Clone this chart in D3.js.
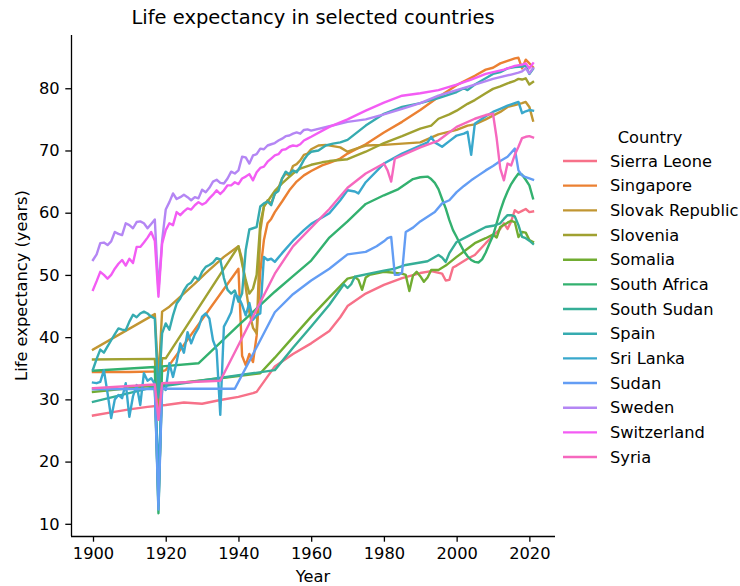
<!DOCTYPE html>
<html>
<head>
<meta charset="utf-8">
<script src="https://cdn.jsdelivr.net/npm/d3@7"></script>
<style>
  body { margin: 0; background: #fff; }
  svg { display: block; }
  text { font-family: "DejaVu Sans", sans-serif; fill: #000; }
</style>
</head>
<body>
<svg id="chart" width="740" height="586"></svg>
<script>
// ---------------- data ----------------
const countries = ["Sierra Leone", "Singapore", "Slovak Republic", "Slovenia", "Somalia",
  "South Africa", "South Sudan", "Spain", "Sri Lanka", "Sudan", "Sweden", "Switzerland", "Syria"];

const sierraLeone = [[1900,27.4],[1905,27.9],[1910,28.4],[1915,28.8],[1920,29.1],[1925,29.5],[1930,29.3],
  [1935,29.9],[1940,30.4],[1944,31.0],[1945,31.2],[1950,35.3],[1955,37.3],[1960,39.0],[1965,41.0],[1968,43.2],
  [1970,45.0],[1975,47.0],[1980,48.4],[1985,49.5],[1990,50.3],[1993,50.6],[1996,50.2],[1997,49.1],[1998,49.2],
  [1999,51.2],[2000,51.5],[2003,52.6],[2005,53.2],[2008,55.1],[2010,56.3],[2012,57.4],[2013,58.3],[2014,57.4],
  [2015,58.6],[2016,60.4],[2017,60.0],[2018,60.3],[2019,60.6],[2020,60.1],[2021,60.2]];

const singapore = [[1900,34.4],[1910,34.4],[1919,34.5],[1920,34.7],[1940,51.0],[1941,37.0],[1942,35.5],
  [1943,37.3],[1944,36.0],[1945,40.2],[1946,50.5],[1947,55.6],[1948,58.3],[1949,59.0],[1950,60.1],[1952,61.8],
  [1954,63.6],[1956,65.0],[1958,66.0],[1960,66.7],[1963,67.6],[1965,68.0],[1968,68.7],[1970,69.5],[1975,71.0],
  [1980,72.9],[1985,74.6],[1990,76.5],[1995,78.6],[2000,80.5],[2005,82.0],[2008,83.0],[2010,83.3],[2012,84.0],
  [2014,84.4],[2016,84.8],[2017,84.9],[2018,83.2],[2019,84.6],[2020,84.0],[2021,83.4]];

const slovakRepublic = [[1900,38.0],[1917,43.7],[1918,33.0],[1919,44.1],[1921,44.9],[1928,48.6],[1931,50.3],
  [1936,52.9],[1940,54.6],[1941,52.5],[1942,48.0],[1943,44.0],[1944,41.5],[1945,40.6],[1946,57.0],[1947,61.0],
  [1948,62.0],[1949,61.5],[1950,63.0],[1951,64.0],[1952,65.5],[1953,66.3],[1954,66.0],[1955,67.5],[1956,67.8],
  [1957,68.4],[1958,69.3],[1959,69.5],[1960,70.2],[1962,70.8],[1964,70.9],[1966,70.7],[1968,70.5],[1970,69.8],
  [1972,70.2],[1975,70.8],[1980,70.9],[1985,71.1],[1990,71.3],[1995,72.6],[2000,73.3],[2003,74.0],[2005,74.2],
  [2008,75.0],[2010,75.6],[2012,76.2],[2014,77.0],[2016,77.3],[2018,77.6],[2019,77.8],[2020,77.0],[2021,74.8]];

const slovenia = [[1900,36.4],[1917,36.5],[1918,27.5],[1919,36.6],[1920,36.6],[1940,54.6],[1941,51.8],
  [1942,49.2],[1943,47.0],[1944,47.8],[1945,50.0],[1946,58.3],[1947,61.0],[1948,61.8],[1950,63.5],[1952,64.7],
  [1955,66.3],[1957,67.1],[1960,67.7],[1963,68.1],[1965,68.3],[1970,68.6],[1975,69.8],[1980,71.2],[1985,72.3],
  [1990,73.5],[1993,74.0],[1995,75.1],[1998,75.8],[2000,76.4],[2003,77.5],[2005,78.1],[2008,79.2],[2010,79.9],
  [2012,80.3],[2014,80.8],[2016,81.2],[2017,81.5],[2018,81.4],[2019,81.6],[2020,80.6],[2021,81.0]];

const somalia = [[1900,31.2],[1917,32.2],[1918,14.0],[1919,32.3],[1935,33.4],[1946,34.2],[1950,36.7],
  [1955,40.0],[1960,43.3],[1965,46.4],[1970,49.4],[1972,49.7],[1973,49.2],[1974,47.6],[1975,49.6],[1976,50.0],
  [1980,50.5],[1985,50.2],[1986,50.0],[1987,47.4],[1988,49.9],[1989,50.5],[1990,49.8],[1991,48.9],[1992,49.6],
  [1993,50.8],[1995,50.8],[1997,51.5],[2000,52.9],[2003,54.2],[2005,55.1],[2008,55.9],[2010,56.5],[2011,56.0],
  [2012,57.7],[2014,58.4],[2015,58.7],[2016,58.5],[2017,56.1],[2018,56.9],[2019,56.8],[2020,55.6],[2021,55.3]];

const southAfrica = [[1900,34.6],[1917,35.2],[1918,11.7],[1919,35.3],[1929,35.8],[1940,41.9],[1950,47.3],
  [1955,49.8],[1960,52.3],[1965,56.0],[1970,58.6],[1975,61.4],[1980,62.8],[1984,63.8],[1988,65.4],[1990,65.7],
  [1992,65.8],[1993,65.4],[1994,64.8],[1995,63.8],[1996,62.2],[1997,60.7],[1998,58.8],[1999,57.2],[2000,56.1],
  [2001,54.9],[2002,53.8],[2003,53.0],[2004,52.4],[2005,52.1],[2006,52.0],[2007,52.5],[2008,53.6],[2009,55.0],
  [2010,56.3],[2011,58.3],[2012,60.3],[2013,62.0],[2014,63.4],[2015,64.6],[2016,65.5],[2017,66.3],[2018,66.1],
  [2019,65.3],[2020,64.4],[2021,62.3]];

const southSudan = [[1900,29.6],[1917,32.0],[1918,13.0],[1919,32.1],[1950,34.7],[1955,38.3],[1960,41.7],
  [1965,45.2],[1969,48.5],[1970,47.9],[1971,48.5],[1972,49.7],[1976,50.2],[1980,50.7],[1983,51.0],[1986,51.6],
  [1990,52.0],[1992,52.2],[1995,53.2],[1996,52.8],[1997,52.1],[1998,53.5],[2000,55.3],[2003,56.2],[2005,56.8],
  [2008,57.7],[2010,57.9],[2012,58.3],[2013,59.0],[2014,59.6],[2015,59.6],[2016,59.4],[2017,58.0],[2018,56.1],
  [2019,55.9],[2020,55.5],[2021,55.0]];

const spain = [[1900,34.8],[1901,36.5],[1902,38.0],[1903,37.5],[1904,38.5],[1905,39.5],[1906,40.5],[1907,41.4],
  [1908,41.2],[1909,41.1],[1910,42.5],[1911,43.6],[1912,43.2],[1913,43.8],[1914,44.1],[1915,43.8],[1916,43.3],
  [1917,43.0],[1918,30.3],[1919,40.6],[1920,42.2],[1921,41.2],[1922,43.5],[1923,45.4],[1924,46.2],[1925,47.5],
  [1926,48.4],[1927,48.8],[1928,49.7],[1929,49.2],[1930,50.5],[1931,51.3],[1932,51.6],[1933,52.0],[1934,52.7],
  [1935,52.5],[1936,49.5],[1937,47.6],[1938,47.0],[1939,47.5],[1940,45.7],[1941,47.0],[1942,54.0],[1943,57.3],
  [1944,57.5],[1945,57.7],[1946,61.0],[1947,61.5],[1948,61.8],[1949,61.2],[1950,63.1],[1951,63.5],[1952,65.5],
  [1953,66.6],[1954,66.2],[1955,66.8],[1956,66.5],[1957,67.4],[1958,68.5],[1959,69.3],[1960,69.8],[1962,70.0],
  [1964,70.8],[1966,71.1],[1968,71.3],[1970,71.7],[1975,74.0],[1980,75.9],[1985,77.0],[1990,77.6],[1995,78.4],
  [2000,79.4],[2002,80.0],[2003,79.7],[2005,80.6],[2008,81.6],[2010,82.3],[2012,82.6],[2014,83.2],[2016,83.4],
  [2018,83.5],[2019,83.6],[2020,82.3],[2021,83.1]];

const sriLanka = [[1900,32.7],[1901,32.6],[1902,32.8],[1903,34.7],[1904,31.0],[1905,27.0],[1906,30.0],
  [1907,30.7],[1908,30.2],[1909,32.6],[1910,27.2],[1911,30.5],[1912,32.3],[1913,29.1],[1914,34.2],[1915,33.0],
  [1916,33.4],[1917,32.5],[1918,18.0],[1919,32.0],[1920,31.5],[1921,35.8],[1922,33.6],[1923,36.0],[1924,39.0],
  [1925,37.5],[1926,40.8],[1927,39.0],[1928,40.5],[1929,41.5],[1930,43.3],[1931,43.8],[1932,43.0],[1933,39.5],
  [1934,37.9],[1935,27.5],[1936,41.7],[1937,42.8],[1938,44.0],[1939,46.8],[1940,46.5],[1941,45.2],[1942,43.5],
  [1943,45.5],[1944,42.8],[1945,43.5],[1946,43.8],[1947,52.9],[1948,52.4],[1949,52.6],[1950,52.1],[1952,53.5],
  [1955,55.5],[1958,57.2],[1960,58.2],[1965,59.9],[1968,62.0],[1970,63.6],[1972,63.4],[1973,63.1],[1975,64.9],
  [1980,67.9],[1985,69.5],[1990,70.8],[1992,71.3],[1993,72.2],[1994,71.3],[1996,70.6],[1998,71.5],[2000,72.4],
  [2002,72.7],[2003,73.0],[2004,69.3],[2005,74.3],[2008,75.5],[2010,76.2],[2012,76.7],[2014,77.2],[2016,77.6],
  [2017,77.8],[2018,76.0],[2019,76.3],[2020,76.5],[2021,76.4]];

const sudan = [[1900,31.6],[1917,31.7],[1918,12.3],[1919,31.7],[1939,31.7],[1946,39.5],[1950,44.0],
  [1955,46.9],[1960,49.1],[1965,51.0],[1970,53.3],[1975,53.7],[1978,54.6],[1980,55.4],[1981,55.9],[1982,56.1],
  [1983,50.0],[1984,50.0],[1985,50.4],[1986,56.9],[1988,57.6],[1990,58.6],[1994,60.1],[1996,61.5],[1998,62.0],
  [2000,63.3],[2002,64.3],[2004,65.2],[2006,66.0],[2008,66.8],[2010,67.5],[2012,68.3],[2014,69.0],[2016,70.3],
  [2017,66.8],[2018,66.0],[2019,65.7],[2020,65.5],[2021,65.3]];

const sweden = [[1900,52.4],[1901,53.3],[1902,55.1],[1903,55.2],[1904,54.8],[1905,55.4],[1906,56.9],[1907,56.6],
  [1908,56.4],[1909,58.3],[1910,58.0],[1911,57.5],[1912,58.5],[1913,58.6],[1914,58.3],[1915,57.5],[1916,58.2],
  [1917,58.9],[1918,47.5],[1919,55.5],[1920,60.5],[1921,61.7],[1922,63.1],[1923,62.2],[1924,62.5],[1925,62.9],
  [1926,62.5],[1927,62.0],[1928,62.5],[1929,62.3],[1930,63.7],[1931,63.3],[1932,64.0],[1933,65.0],[1934,65.3],
  [1935,64.8],[1936,64.7],[1937,65.5],[1938,66.6],[1939,66.3],[1940,66.8],[1941,69.0],[1942,68.9],[1943,67.9],
  [1944,69.2],[1945,69.4],[1946,70.3],[1947,70.2],[1948,70.8],[1949,71.0],[1950,71.2],[1951,71.6],[1952,71.9],
  [1953,72.3],[1954,72.4],[1955,72.7],[1956,72.9],[1957,72.7],[1958,73.3],[1959,73.4],[1960,73.2],[1965,73.9],
  [1970,74.6],[1975,75.0],[1980,75.8],[1985,76.7],[1990,77.6],[1995,78.8],[2000,79.7],[2005,80.6],[2010,81.5],
  [2015,82.2],[2017,82.5],[2018,82.7],[2019,83.2],[2020,82.4],[2021,83.2]];

const switzerland = [[1900,47.6],[1901,49.0],[1902,50.5],[1903,50.0],[1904,49.4],[1905,50.0],[1906,51.0],
  [1907,51.8],[1908,52.4],[1909,51.5],[1910,52.6],[1911,51.9],[1912,54.5],[1913,54.5],[1914,55.2],[1915,56.0],
  [1916,56.9],[1917,55.5],[1918,46.5],[1919,55.0],[1920,57.2],[1921,58.3],[1922,58.0],[1923,60.1],[1924,59.6],
  [1925,60.2],[1926,60.7],[1927,60.5],[1928,61.2],[1929,61.7],[1930,61.3],[1931,61.6],[1932,62.3],[1933,62.9],
  [1934,63.6],[1935,63.0],[1936,63.6],[1937,64.4],[1938,64.4],[1939,64.9],[1940,64.6],[1941,65.5],[1942,65.8],
  [1943,66.2],[1944,65.2],[1945,66.5],[1946,67.2],[1947,67.4],[1948,68.2],[1949,68.7],[1950,69.2],[1951,69.4],
  [1952,70.1],[1953,70.2],[1954,70.6],[1955,70.8],[1956,70.7],[1957,71.0],[1958,71.6],[1959,71.9],[1960,72.2],
  [1965,73.8],[1970,75.0],[1975,76.4],[1980,77.7],[1985,78.8],[1990,79.2],[1995,79.7],[2000,80.6],[2004,81.4],
  [2008,82.3],[2013,83.0],[2016,83.6],[2018,83.8],[2019,84.0],[2020,83.2],[2021,84.0]];

const syria = [[1900,31.8],[1917,32.4],[1918,26.7],[1919,32.6],[1935,33.0],[1950,50.2],[1955,54.6],[1960,57.6],
  [1965,60.6],[1970,64.0],[1975,66.3],[1980,67.9],[1981,66.8],[1982,65.0],[1983,68.7],[1985,69.2],[1990,70.5],
  [1995,71.6],[2000,73.8],[2005,75.1],[2008,75.7],[2010,75.9],[2011,72.0],[2012,67.1],[2013,65.2],[2014,67.9],
  [2015,67.6],[2016,69.3],[2017,70.6],[2018,72.0],[2019,72.2],[2020,72.3],[2021,72.1]];

const seriesValues = [sierraLeone, singapore, slovakRepublic, slovenia, somalia, southAfrica, southSudan,
  spain, sriLanka, sudan, sweden, switzerland, syria];

const xTickValues = [1900, 1920, 1940, 1960, 1980, 2000, 2020];
const yTickValues = [10, 20, 30, 40, 50, 60, 70, 80];
const chartTitle = "Life expectancy in selected countries";
const xLabel = "Year";
const yLabel = "Life expectancy (years)";
const legendTitle = "Country";

// ---------------- HUSL palette (seaborn husl_palette) ----------------
const M = [[3.2406, -1.5372, -0.4986], [-0.9689, 1.8758, 0.0415], [0.0557, -0.2040, 1.0570]];
const refU = 0.19784, refV = 0.46834, labE = 0.008856, labK = 903.3;
function maxChroma(L, H) {
  const hrad = H / 360 * 2 * Math.PI;
  const sinH = Math.sin(hrad), cosH = Math.cos(hrad);
  const sub1 = Math.pow(L + 16, 3) / 1560896.0;
  const sub2 = sub1 > labE ? sub1 : L / labK;
  let result = Infinity;
  for (const [m1, m2, m3] of M) {
    const top = (0.99915 * m1 + 1.05122 * m2 + 1.14460 * m3) * sub2;
    const rbottom = 0.86330 * m3 - 0.17266 * m2;
    const lbottom = 0.12949 * m3 - 0.38848 * m1;
    const bottom = (rbottom * sinH + lbottom * cosH) * sub2;
    for (const t of [0, 1]) {
      const C = L * (top - 1.05122 * t) / (bottom + 0.17266 * sinH * t);
      if (C > 0 && C < result) result = C;
    }
  }
  return result;
}
function fInv(t) { const t3 = t * t * t; return t3 > labE ? t3 : (116 * t - 16) / labK; }
function fromLinear(c) { return c <= 0.0031308 ? 12.92 * c : 1.055 * Math.pow(c, 1 / 2.4) - 0.055; }
function huslToRgb(H, S, L) {
  const C = maxChroma(L, H) / 100 * S;
  const hr = H / 360 * 2 * Math.PI;
  const U = Math.cos(hr) * C, V = Math.sin(hr) * C;
  const Y = fInv((L + 16) / 116);
  const varU = U / (13 * L) + refU, varV = V / (13 * L) + refV;
  const X = 0 - (9 * Y * varU) / ((varU - 4) * varV - varU * varV);
  const Z = (9 * Y - 15 * varV * Y - varV * X) / (3 * varV);
  const rgb = M.map(r => fromLinear(r[0] * X + r[1] * Y + r[2] * Z));
  return d3.rgb(...rgb.map(c => Math.max(0, Math.min(1, c)) * 255)).formatHex();
}
function huslPalette(n, h = 0.01, s = 0.9, l = 0.65) {
  return d3.range(n).map(i => huslToRgb(((i / n) + h) % 1 * 359, s * 99, l * 99));
}
const palette = huslPalette(countries.length);

// ---------------- layout ----------------
const svg = d3.select("#chart");
const plot = { left: 71, right: 555, top: 35, bottom: 536 };
const fs = 16.25;

const allPts = seriesValues.flat();
const xExt = d3.extent(allPts, d => d[0]);
const yExt = d3.extent(allPts, d => d[1]);
const xPad = (xExt[1] - xExt[0]) * 0.05, yPad = (yExt[1] - yExt[0]) * 0.05;

const x = d3.scaleLinear().domain([xExt[0] - xPad, xExt[1] + xPad]).range([plot.left, plot.right]);
const y = d3.scaleLinear().domain([yExt[0] - yPad, yExt[1] + yPad]).range([plot.bottom, plot.top]);
const color = d3.scaleOrdinal().domain(countries).range(palette);

const line = d3.line().x(d => x(d[0])).y(d => y(d[1]));

svg.append("g").selectAll("path")
  .data(seriesValues.map((v, i) => ({ name: countries[i], values: v })))
  .join("path")
  .attr("d", d => line(d.values))
  .attr("fill", "none")
  .attr("stroke", d => color(d.name))
  .attr("stroke-width", 2.4)
  .attr("stroke-linejoin", "round")
  .attr("stroke-linecap", "square");

// axes
const tickLen = 5.7, tickPad = 5.7;
const xAxis = svg.append("g").attr("transform", `translate(0,${plot.bottom})`)
  .call(d3.axisBottom(x).tickValues(xTickValues).tickFormat(d3.format("d"))
    .tickSize(tickLen).tickSizeOuter(0).tickPadding(tickPad));
const yAxis = svg.append("g").attr("transform", `translate(${plot.left},0)`)
  .call(d3.axisLeft(y).tickValues(yTickValues).tickFormat(d3.format("d"))
    .tickSize(tickLen).tickSizeOuter(0).tickPadding(tickPad));
[xAxis, yAxis].forEach(g => {
  g.selectAll("path.domain").attr("stroke", "#000").attr("stroke-width", 1.3);
  g.selectAll(".tick line").attr("stroke", "#000").attr("stroke-width", 1.3);
  g.selectAll(".tick text").attr("font-size", fs).attr("font-family", "DejaVu Sans").attr("fill", "#000");
});
yAxis.select("path.domain").attr("d", `M0.5,${plot.bottom}V${plot.top}`);
xAxis.select("path.domain").attr("d", `M${plot.left},0.5H${plot.right}`);

// labels
svg.append("text").attr("x", (plot.left + plot.right) / 2).attr("y", 24)
  .attr("text-anchor", "middle").attr("font-size", 19.5).text(chartTitle);
svg.append("text").attr("x", (plot.left + plot.right) / 2).attr("y", 582)
  .attr("text-anchor", "middle").attr("font-size", fs).text(xLabel);
svg.append("text").attr("transform", `translate(27,${(plot.top + plot.bottom) / 2}) rotate(-90)`)
  .attr("text-anchor", "middle").attr("font-size", fs).text(yLabel);

// legend
const legend = svg.append("g");
legend.append("text").attr("x", 650).attr("y", 137).attr("dy", "0.35em")
  .attr("text-anchor", "middle").attr("font-size", fs).text(legendTitle);
const rowH = 24.67;
const items = legend.selectAll("g.item").data(countries).join("g")
  .attr("class", "item")
  .attr("transform", (d, i) => `translate(0,${161 + i * rowH})`);
items.append("line").attr("x1", 563).attr("x2", 597).attr("y1", 0).attr("y2", 0)
  .attr("stroke", d => color(d)).attr("stroke-width", 2.4);
items.append("text").attr("x", 610).attr("y", 0).attr("dy", "0.35em")
  .attr("font-size", fs).text(d => d);
</script>
</body>
</html>
